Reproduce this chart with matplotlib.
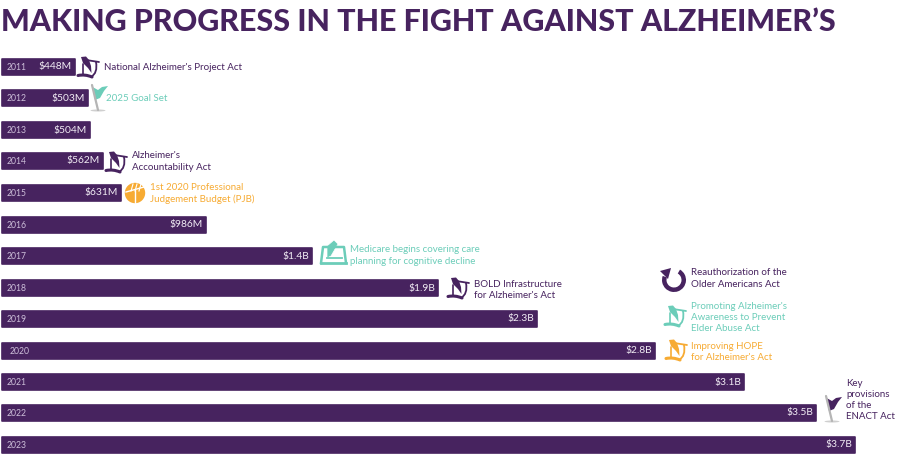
import matplotlib
matplotlib.use("Agg")
import matplotlib.pyplot as plt
from matplotlib.patches import Polygon, Circle, Ellipse, Wedge
from matplotlib.path import Path
from matplotlib.patches import PathPatch

plt.rcParams['font.family'] = ['Lato', 'DejaVu Sans']

PURPLE = '#47235f'
TEAL = '#6ccdb9'
ORANGE = '#f7ab33'

years = ['2011','2012','2013','2014','2015','2016','2017','2018','2019','2020','2021','2022','2023']
funding_labels = ['$448M','$503M','$504M','$562M','$631M','$986M','$1.4B','$1.9B','$2.3B','$2.8B','$3.1B','$3.5B','$3.7B']
bar_lengths = [73, 86, 88, 101, 119, 204, 310, 436, 535, 653, 742, 814, 853]
row_centers = [67, 98, 130, 161, 193, 225, 256, 288, 319, 351, 382, 413, 445]

milestones = [
    (104, 67, "National Alzheimer's Project Act", PURPLE),
    (106, 98.5, "2025 Goal Set", TEAL),
    (132, 161.5, "Alzheimer's\nAccountability Act", PURPLE),
    (150, 193.5, "1st 2020 Professional\nJudgement Budget (PJB)", ORANGE),
    (350, 255.5, "Medicare begins covering care\nplanning for cognitive decline", TEAL),
    (474, 290, "BOLD Infrastructure\nfor Alzheimer's Act", PURPLE),
    (691, 278.5, "Reauthorization of the\nOlder Americans Act", PURPLE),
    (691, 317.5, "Promoting Alzheimer's\nAwareness to Prevent\nElder Abuse Act", TEAL),
    (691, 352, "Improving HOPE\nfor Alzheimer's Act", ORANGE),
    (846, 400, "Key\nprovisions\nof the\nENACT Act", PURPLE),
]
scroll_icons = [(77, 56, PURPLE), (105, 151, PURPLE), (447, 277, PURPLE), (664, 305, TEAL), (665, 339, ORANGE)]
flag_icons = [(90, 85, TEAL), (824, 396, PURPLE)]

fig = plt.figure(figsize=(9, 4.68), dpi=100, facecolor='white')
ax = fig.add_axes([0, 0, 1, 1])
ax.set_xlim(0, 900)
ax.set_ylim(468, 0)
ax.axis('off')

ax.barh(row_centers, bar_lengths, height=15.5, left=1.5, color=PURPLE,
        edgecolor=PURPLE, linewidth=1.2, joinstyle='round')

for y, yr, lab, ln in zip(row_centers, years, funding_labels, bar_lengths):
    x0 = 10 if yr == '2020' else 7
    ax.text(x0, y + 0.3, yr, color='#cdbfd9', fontsize=6.2, va='center', ha='left')
    ax.text(ln - 1, y, lab, color='#f1ecf4', fontsize=7.4, va='center', ha='right')

for x, y, txt, col in milestones:
    ax.text(x, y, txt, color=col, fontsize=7.0, va='center', ha='left',
            linespacing=1.3)

ax.text(1, 22, "MAKING PROGRESS IN THE FIGHT AGAINST ALZHEIMER\u2019S",
        color=PURPLE, fontsize=21.9, fontweight='black', va='center', ha='left')


def scroll(x, y, c):
    def L(pts, lw):
        verts = [(x + a, y + b) for a, b in pts]
        codes = [Path.MOVETO] + [Path.CURVE3] * (len(pts) - 1) if len(pts) == 3 else [Path.MOVETO] + [Path.LINETO] * (len(pts) - 1)
        ax.add_patch(PathPatch(Path(verts, codes), fill=False, ec=c, lw=lw, capstyle='round'))
    ax.add_patch(Polygon([(x + a, y + b) for a, b in
                          [(4, 1), (9, 0.5), (12, 4), (14, 10), (14.5, 17), (11, 12), (6, 7)]], closed=True, fc=c, ec='none'))
    L([(9, 4), (22, 6)], 1.3)
    L([(19, 6), (21, 17), (14, 21)], 1.3)
    L([(6, 8), (6, 19)], 1.2)
    L([(1, 19.5), (8, 18), (15, 21)], 2.2)


def flag(x, y, c):
    ax.add_patch(Ellipse((x + 8, y + 25.5), 15, 2, fc='#cfcfcf', ec='none'))
    ax.plot([x + 2, x + 8], [y, y + 25], color='#b5b5b5', lw=1.6, solid_capstyle='round')
    ax.add_patch(Polygon([(x + a, y + b) for a, b in
                          [(2.5, 2), (8, 5), (12, 2), (18, 1), (14, 6), (10, 13), (5, 15)]], closed=True, fc=c, ec='none'))


for item in scroll_icons:
    scroll(*item)
for item in flag_icons:
    flag(*item)

# recurring-circle icon
ax.add_patch(Wedge((674, 280), 12, 300, 200, width=4.5, fc=PURPLE, ec='none'))
ax.add_patch(Polygon([(660, 271), (671, 268), (668, 279)], closed=True, fc=PURPLE, ec='none'))

# budget pie icon
ax.add_patch(Circle((135, 193), 10.2, fc=ORANGE, ec='none'))
ax.plot([126, 144], [192, 187], color='white', lw=1)
ax.plot([135, 135], [190, 204], color='white', lw=1)
for dx in (-2, 2, 6):
    ax.plot([135 + dx, 133 + dx], [184, 191], color='white', lw=0.8)

# care-planning icon
ax.plot([321, 323, 344, 346], [263, 247, 247, 263], color=TEAL, lw=1.8)
ax.plot([321, 346], [263, 263], color=TEAL, lw=2)
ax.plot([327, 342], [258, 258], color=TEAL, lw=1.3)
ax.add_patch(Polygon([(327, 246), (334, 240), (338, 244), (331, 256), (327, 258)], closed=True, fc=TEAL, ec='white', lw=0.5))

fig.savefig('out.png', dpi=100, facecolor='white')
